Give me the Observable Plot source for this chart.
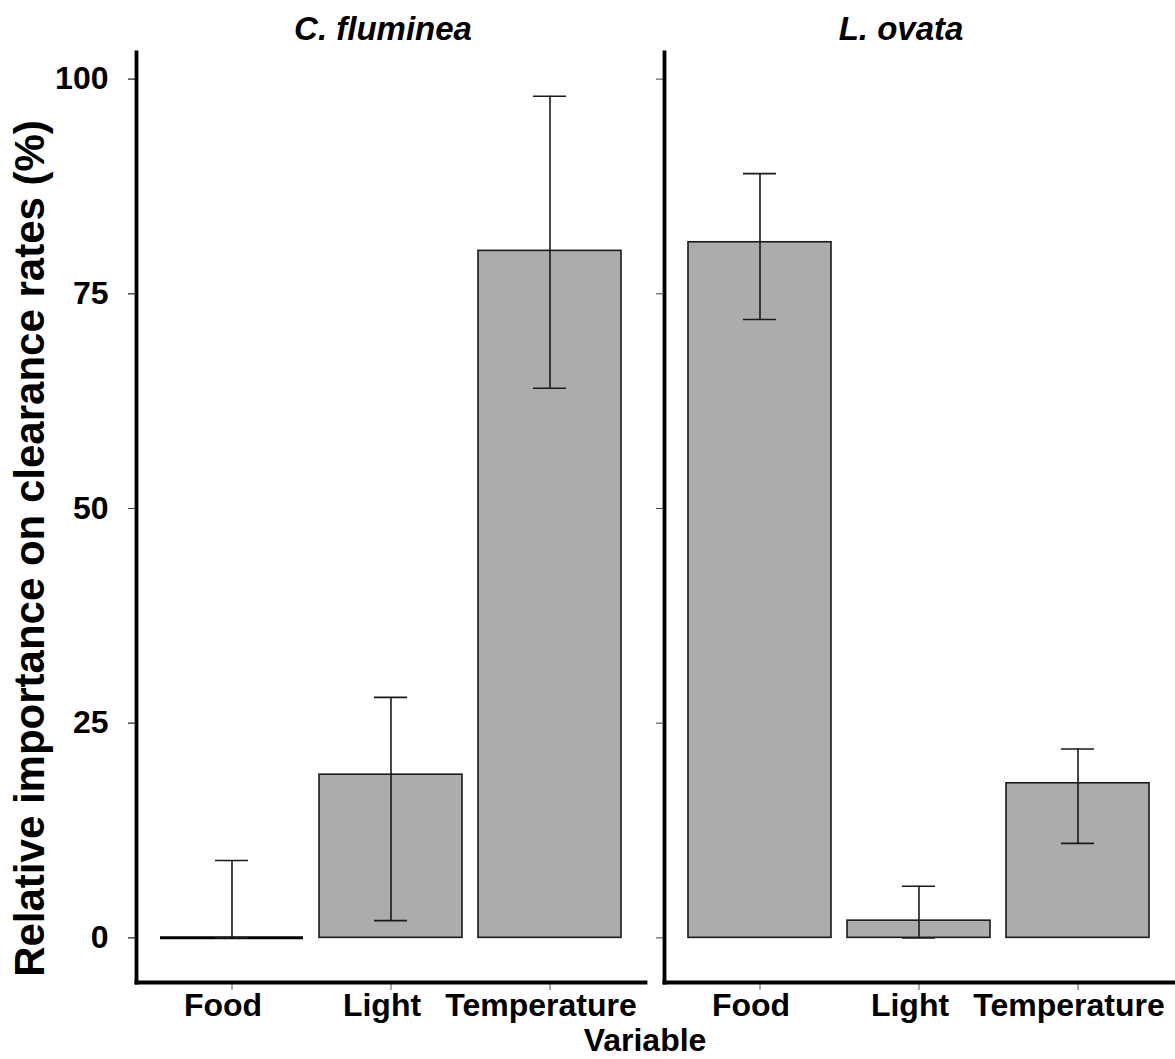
<!DOCTYPE html>
<html>
<head>
<meta charset="utf-8">
<script src="https://cdn.jsdelivr.net/npm/d3@7"></script>
<script src="https://cdn.jsdelivr.net/npm/@observablehq/plot@0.6"></script>
<style>
  html, body { margin: 0; padding: 0; background: white; }
  #chart { width: 1175px; height: 1059px; }
</style>
</head>
<body>
<div id="chart"></div>
<script>
const species = ["C. fluminea", "L. ovata"];
const variables = ["Food", "Light", "Temperature"];
const cfValues = [0, 19, 80];
const cfLower = [0, 2, 64];
const cfUpper = [9, 28, 98];
const loValues = [81, 2, 18];
const loLower = [72, 0, 11];
const loUpper = [89, 6, 22];
const yTicks = [0, 25, 50, 75, 100];
const yDomain = [-5.2, 103.1];
const yLabel = "Relative importance on clearance rates (%)";
const xLabel = "Variable";

const rows = [];
variables.forEach((v, i) => rows.push({species: species[0], variable: v, value: cfValues[i], lower: cfLower[i], upper: cfUpper[i]}));
variables.forEach((v, i) => rows.push({species: species[1], variable: v, value: loValues[i], lower: loLower[i], upper: loUpper[i]}));

const font = "'Liberation Sans', Arial, sans-serif";

const chart = Plot.plot({
  width: 1175,
  height: 1059,
  marginLeft: 136,
  marginRight: 2,
  marginTop: 52,
  marginBottom: 77,
  style: {fontFamily: font, fontWeight: "bold", fontSize: "32px", color: "#000", background: "white", overflow: "visible"},
  fx: {domain: species, paddingInner: 0.036, paddingOuter: 0, axis: null, label: null},
  x: {domain: variables, paddingInner: 0.1, paddingOuter: 0.15, label: null},
  y: {domain: yDomain, label: null},
  marks: [
    Plot.barY(rows, {fx: "species", x: "variable", y1: 0, y2: "value", fill: "#acacac", stroke: "#1a1a1a", strokeWidth: 1.6}),
    Plot.tickY(rows.filter(d => d.value === 0), {fx: "species", x: "variable", y: "value", stroke: "#000", strokeWidth: 3}),
    Plot.ruleX(rows, {fx: "species", x: "variable", y1: "lower", y2: "upper", stroke: "#1a1a1a", strokeWidth: 1.6}),
    Plot.tickY(rows, {fx: "species", x: "variable", y: "upper", insetLeft: 55, insetRight: 55, stroke: "#1a1a1a", strokeWidth: 1.6}),
    Plot.tickY(rows, {fx: "species", x: "variable", y: "lower", insetLeft: 55, insetRight: 55, stroke: "#1a1a1a", strokeWidth: 1.6}),
    Plot.axisY({ticks: yTicks, tickSize: 8, tickPadding: 20, stroke: "#444", fill: "#000", fontSize: 32, fontWeight: "bold"}),
    Plot.axisY({ticks: yTicks, tickSize: 8, tickFormat: () => "", stroke: "#444", facetAnchor: null}),
    Plot.axisX({tickSize: 8, tickPadding: 3, stroke: "#555", fill: "#000", fontSize: 32, fontWeight: "bold", text: null}),
    Plot.axisX({tickSize: 0, tickPadding: 11, dx: -9, fill: "#000", fontSize: 32, fontWeight: "bold"}),
    Plot.frame({anchor: "left", stroke: "#000", strokeWidth: 3.8}),
    Plot.frame({anchor: "bottom", stroke: "#000", strokeWidth: 3.8}),
    Plot.text([species[0]], {fx: d => d, frameAnchor: "top", lineAnchor: "middle", dy: -23, dx: -8, fontSize: 33, fontStyle: "italic", fontWeight: "bold", fill: "#000"}),
    Plot.text([species[1]], {fx: d => d, frameAnchor: "top", lineAnchor: "middle", dy: -23, dx: -18, fontSize: 33, fontStyle: "italic", fontWeight: "bold", fill: "#000"}),
    Plot.text([yLabel], {facet: "super", frameAnchor: "left", textAnchor: "middle", lineAnchor: "middle", rotate: -90, dx: -106, dy: 31, fontSize: 42, fontWeight: "bold", fill: "#000"}),
    Plot.text([xLabel], {facet: "super", frameAnchor: "bottom", textAnchor: "middle", lineAnchor: "middle", dx: -10, dy: 58, fontSize: 32, fontWeight: "bold", fill: "#000"})
  ]
});
document.getElementById("chart").appendChild(chart);
</script>
</body>
</html>
